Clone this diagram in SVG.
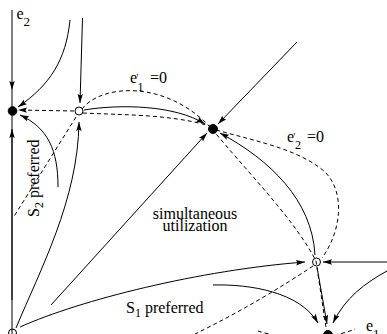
<svg xmlns="http://www.w3.org/2000/svg" width="387" height="334" viewBox="0 0 387 334">
<style>
.s{fill:none;stroke:#000;stroke-width:1}
.d{fill:none;stroke:#000;stroke-width:1;stroke-dasharray:4,3}
.a{marker-end:url(#ah)}
.t{font-family:"Liberation Serif","Times New Roman",serif;font-size:16px;fill:#000}
.sub{font-size:12px}
.full{fill:#000;stroke:#000}
.open{fill:none;stroke:#000;stroke-width:1}
</style>
<defs>
<marker id="ah" markerWidth="9" markerHeight="6" refX="9" refY="3" orient="auto" markerUnits="userSpaceOnUse">
<path d="M0,0.3 L9,3 L0,5.7 L1.5,3 z" fill="#000"/>
</marker>
</defs>
<rect width="387" height="334" fill="#fff"/>
<g id="connectors">
<path class="s a" d="M12,10 L12,90"/>
<path class="s" d="M12,90 L12,334"/>
<path class="s a" d="M12,300 L12,129"/>
<path class="s a" d="M70,20 C66,60 50,85 18,107"/>
<path class="s a" d="M82.5,18 L80,103"/>
<path class="d a" d="M74,111 L18,110"/>
<path class="s a" d="M58,187 C58,150 48,128 20,115"/>
<path class="d" d="M76,117 L13,218"/>
<path class="s a" d="M16,328 C40,270 78,200 79,122"/>
<path class="s a" d="M51,305 L207,133"/>
<path class="s a" d="M84,110 C120,104 175,105 205,124"/>
<path class="s a" d="M297,42 L218,124"/>
<path class="s a" d="M315,255 C312,200 270,160 220,133"/>
<path class="s a" d="M20,327 C80,300 200,270 305,262"/>
<path class="s a" d="M213,285 C250,284 300,292 318,323"/>
<path class="s a" d="M387,262 L323,262"/>
<path class="s a" d="M387,271 C365,283 345,298 333,323"/>
<path class="s a" d="M317,267 L327,324"/>
<path class="d" d="M82,109 C100,85 165,78 212,129"/>
<path class="d" d="M212,129 C250,175 295,220 316,261 L327,334"/>
<path class="d" d="M83,113 C120,115 170,114 210,126"/>
<path class="d" d="M216,130 C260,142 300,150 325,172 C345,192 342,230 322,258"/>
<path class="d" d="M313,266 C280,288 240,312 195,334"/>
<path class="d" d="M258,331 C285,340 330,340 355,329"/>
</g>
<g id="eq-e2"><circle class="full" cx="12.5" cy="111" r="4.3"/></g>
<g id="saddle-top"><circle class="open" cx="79" cy="111" r="4"/></g>
<g id="eq-coexist"><circle class="full" cx="213" cy="129" r="4.5"/></g>
<g id="saddle-right"><circle class="open" cx="316.5" cy="262" r="4"/></g>
<g id="eq-e1"><circle class="full" cx="328" cy="335" r="4.5"/></g>
<g id="origin"><circle class="open" cx="12.5" cy="333" r="4"/></g>
<g id="labels">
<text class="t" x="16.5" y="19">e<tspan font-size="13" dy="6.5">2</tspan></text>
<text class="t" x="130" y="83">e<tspan font-size="10" dx="-0.5" dy="-2">'</tspan><tspan font-size="12" x="137.5" dy="9.5">1</tspan><tspan x="150" dy="-7.5">=0</tspan></text>
<text class="t" x="287" y="142">e<tspan font-size="10" dx="-0.5" dy="-2">'</tspan><tspan font-size="12" x="295" dy="8.5">2</tspan><tspan x="307" dy="-6.5">=0</tspan></text>
<text class="t" x="366" y="331">e<tspan font-size="13" dy="7">1</tspan></text>
<text class="t" text-anchor="middle" x="195" y="219">simultaneous<tspan x="195" dy="12">utilization</tspan></text>
<text class="t" x="126" y="313">S<tspan class="sub" dy="4">1</tspan><tspan dy="-4"> preferred</tspan></text>
<text class="t" transform="translate(38.5,217) rotate(-90)">S<tspan class="sub" dy="4">2</tspan><tspan dy="-4"> preferred</tspan></text>
</g>
</svg>
